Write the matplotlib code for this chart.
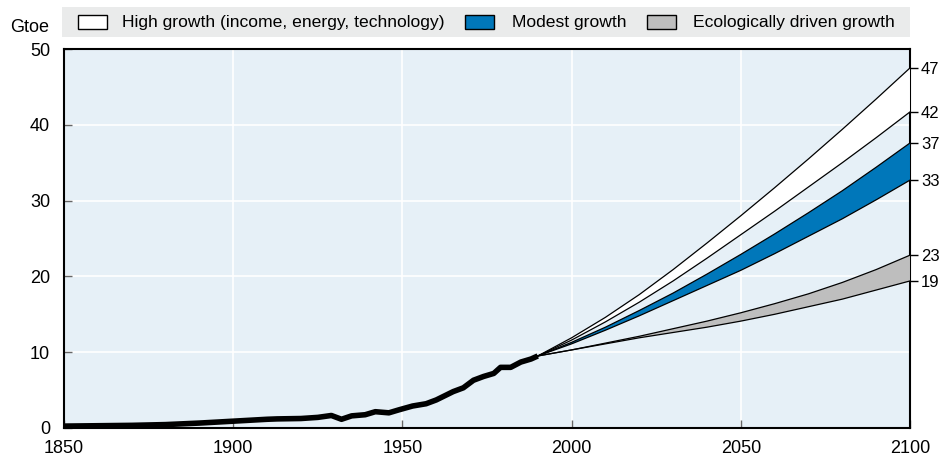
import matplotlib.pyplot as plt
from matplotlib.patches import Rectangle

plt.rcParams['font.family'] = ['Liberation Sans', 'DejaVu Sans']

# Historical world energy use (Gtoe)
hist_years = [1850, 1860, 1870, 1880, 1890, 1900, 1910, 1913, 1920, 1925, 1929, 1932,
              1935, 1939, 1942, 1946, 1949, 1953, 1957, 1960, 1965, 1968, 1971, 1974,
              1977, 1979, 1982, 1985, 1988, 1990]
hist_values = [0.25, 0.3, 0.35, 0.45, 0.65, 0.9, 1.15, 1.2, 1.25, 1.4, 1.65, 1.15,
               1.6, 1.75, 2.15, 2.0, 2.4, 2.9, 3.2, 3.7, 4.8, 5.3, 6.3, 6.8,
               7.2, 8.0, 8.0, 8.7, 9.1, 9.5]

# Scenario envelopes
scen_years = [1990, 2000, 2010, 2020, 2030, 2040, 2050, 2060, 2070, 2080, 2090, 2100]
high_top = [9.5, 11.9, 14.6, 17.6, 20.9, 24.4, 28.0, 31.7, 35.5, 39.4, 43.4, 47.5]
high_bottom = [9.5, 11.6, 14.0, 16.6, 19.4, 22.4, 25.5, 28.6, 31.8, 35.0, 38.3, 41.7]
modest_top = [9.5, 11.3, 13.3, 15.5, 17.8, 20.3, 22.9, 25.6, 28.4, 31.3, 34.4, 37.6]
modest_bottom = [9.5, 11.1, 12.9, 14.8, 16.8, 18.8, 20.8, 23.0, 25.3, 27.6, 30.1, 32.7]
eco_top = [9.5, 10.3, 11.2, 12.1, 13.1, 14.1, 15.2, 16.4, 17.7, 19.2, 20.9, 22.8]
eco_bottom = [9.5, 10.3, 11.1, 11.9, 12.6, 13.3, 14.1, 15.0, 16.0, 17.0, 18.2, 19.4]

end_labels = ['47', '42', '37', '33', '23', '19']

series_names = ['High growth (income, energy, technology)', 'Modest growth',
                'Ecologically driven growth']
colors = ['#FFFFFF', '#0077BA', '#BEBEBE']

fig = plt.figure(figsize=(9.39, 4.61), dpi=100)
ax = fig.add_axes([0.0682, 0.0716, 0.9009, 0.8221])
ax.set_facecolor('#E6F0F7')

bands = [(high_bottom, high_top), (modest_bottom, modest_top), (eco_bottom, eco_top)]
for (lo, hi), c in zip(bands, colors):
    ax.fill_between(scen_years, lo, hi, facecolor=c, edgecolor='none', zorder=3)
    ax.plot(scen_years, lo, color='black', lw=0.9, zorder=4)
    ax.plot(scen_years, hi, color='black', lw=0.9, zorder=4)

ax.plot(hist_years, hist_values, color='black', lw=4, solid_capstyle='butt',
        solid_joinstyle='round', zorder=5)

ax.set_xlim(1850, 2100)
ax.set_ylim(0, 50)
ax.set_xticks([1850, 1900, 1950, 2000, 2050, 2100])
ax.set_yticks([0, 10, 20, 30, 40, 50])
ax.grid(True, color='white', lw=1.2, zorder=1)
ax.set_axisbelow(True)
ax.tick_params(axis='both', direction='in', length=6, width=1, color='#666666',
               labelsize=13, colors='black')
ax.tick_params(axis='x', pad=9)
ax.tick_params(axis='y', pad=10)
for sp in ax.spines.values():
    sp.set_linewidth(1.5)

ax2 = ax.twinx()
ax2.set_ylim(0, 50)
ax2.set_yticks([high_top[-1], high_bottom[-1], modest_top[-1], modest_bottom[-1],
                eco_top[-1], eco_bottom[-1]])
ax2.set_yticklabels(end_labels)
ax2.tick_params(axis='y', direction='out', length=6, width=1, labelsize=12, pad=2)
for sp in ax2.spines.values():
    sp.set_visible(False)

fig.text(30 / 939, 1 - 27 / 461, 'Gtoe', fontsize=13, ha='center', va='center')

# legend band
fig.patches.append(Rectangle((62 / 939, 1 - 37 / 461), 848 / 939, 30 / 461,
                             transform=fig.transFigure, facecolor='#EAEBEB',
                             edgecolor='none', zorder=0))
box_x = [78, 465, 647]
text_x = [122, 512, 693]
for bx, tx, name, c in zip(box_x, text_x, series_names, colors):
    fig.patches.append(Rectangle((bx / 939, 1 - 29 / 461), 29 / 939, 14 / 461,
                                 transform=fig.transFigure, facecolor=c,
                                 edgecolor='black', lw=1))
    fig.text(tx / 939, 1 - 22 / 461, name, fontsize=12.6, ha='left', va='center')

fig.savefig('out.png', dpi=100)
